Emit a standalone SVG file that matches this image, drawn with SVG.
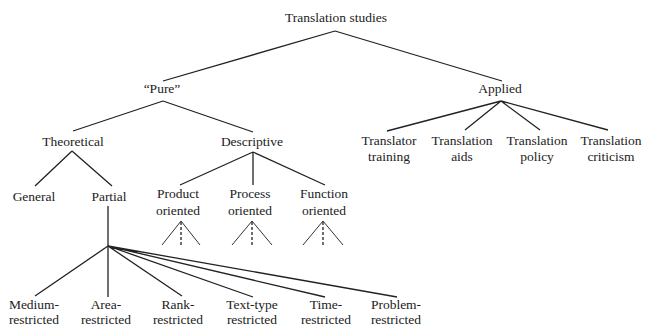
<svg xmlns="http://www.w3.org/2000/svg" width="651" height="326" viewBox="0 0 651 326">
<style>
text{font-family:"Liberation Serif","Times New Roman",serif;font-size:13.5px;fill:#222;text-anchor:middle}
.e{stroke:#222;stroke-width:1.3;fill:none}
.d{stroke:#222;stroke-width:1.3;fill:none;stroke-dasharray:3 2}
.t{stroke:#333;stroke-width:1;fill:none}
</style>
<rect width="651" height="326" fill="#fff"/>
<g id="connectors">
<path class="e" d="M335 31L163 81M335 31L502 81"/>
<path class="e" d="M163 101L73 131M163 101L253 132"/>
<path class="e" d="M501 101L387 131M501 101L465 130M501 101L540 130M501 101L608 130"/>
<path class="e" d="M72 151L35 186M72 151L112 186"/>
<path class="e" d="M253 152L180 185M253 152L253 185M253 152L325 185"/>
<path class="e" d="M108 206L108 297"/>
<path class="e" d="M108 246L35 296M108 246L182 296M108 246L253 297M108 246L325 297M108 246L397 297"/>
<path class="t" d="M181 221L162 245M181 221L200 245M252 221L232 245M252 221L272 245M323 221L303 245M323 221L343 245"/>
<path class="d" d="M181 222L181 245M252 222L252 245M323 222L323 245"/>
</g>
<g id="n-root"><text x="336" y="22">Translation studies</text></g>
<g id="n-pure"><text x="162" y="93">“Pure”</text></g>
<g id="n-applied"><text x="500" y="93">Applied</text></g>
<g id="n-theoretical"><text x="73" y="146">Theoretical</text></g>
<g id="n-descriptive"><text x="252" y="146">Descriptive</text></g>
<g id="n-translator-training"><text x="389" y="145">Translator</text><text x="389" y="161">training</text></g>
<g id="n-translation-aids"><text x="462" y="145">Translation</text><text x="462" y="161">aids</text></g>
<g id="n-translation-policy"><text x="537" y="145">Translation</text><text x="537" y="161">policy</text></g>
<g id="n-translation-criticism"><text x="611" y="145">Translation</text><text x="611" y="161">criticism</text></g>
<g id="n-general"><text x="34" y="201">General</text></g>
<g id="n-partial"><text x="109" y="201">Partial</text></g>
<g id="n-product"><text x="178" y="198">Product</text><text x="178" y="215">oriented</text></g>
<g id="n-process"><text x="250" y="198">Process</text><text x="250" y="215">oriented</text></g>
<g id="n-function"><text x="324" y="198">Function</text><text x="324" y="215">oriented</text></g>
<g id="n-medium"><text x="34" y="309">Medium-</text><text x="34" y="324">restricted</text></g>
<g id="n-area"><text x="106" y="309">Area-</text><text x="106" y="324">restricted</text></g>
<g id="n-rank"><text x="178" y="309">Rank-</text><text x="178" y="324">restricted</text></g>
<g id="n-texttype"><text x="252" y="309">Text-type</text><text x="252" y="324">restricted</text></g>
<g id="n-time"><text x="326" y="309">Time-</text><text x="326" y="324">restricted</text></g>
<g id="n-problem"><text x="396" y="309">Problem-</text><text x="396" y="324">restricted</text></g>
</svg>
